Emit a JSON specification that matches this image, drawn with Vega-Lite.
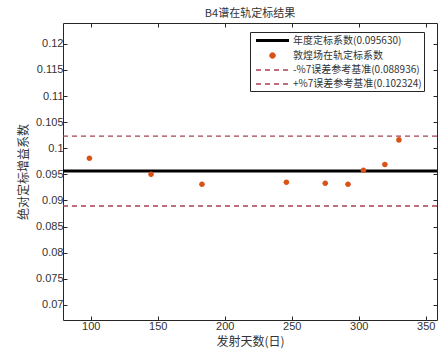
{
  "$schema": "https://vega.github.io/schema/vega-lite/v6.json",
  "width": 374,
  "height": 297,
  "autosize": {"type": "none"},
  "padding": {"left": 63, "top": 23, "right": 2, "bottom": 34},
  "background": "white",
  "title": {"text": "B4谱在轨定标结果", "font": "Noto Sans CJK SC", "fontSize": 11, "fontWeight": "normal", "color": "#333333", "offset": 4},
  "config": {
    "view": {"stroke": "#262626", "strokeWidth": 1},
    "axis": {"labelFont": "Liberation Sans", "labelFontSize": 11, "labelColor": "#333333", "titleFont": "Noto Sans CJK SC", "titleFontSize": 12, "titleFontWeight": "normal", "titleColor": "#333333", "grid": false, "domain": false, "tickColor": "#262626", "tickSize": -4}
  },
  "datasets": {
    "refs": [
      {"series": "年度定标系数(0.095630)", "value": 0.09563},
      {"series": "-%7误差参考基准(0.088936)", "value": 0.088936},
      {"series": "+%7误差参考基准(0.102324)", "value": 0.102324}
    ],
    "pts": [
      {"series": "敦煌场在轨定标系数", "day": 99, "coef": 0.0981},
      {"series": "敦煌场在轨定标系数", "day": 145, "coef": 0.0950},
      {"series": "敦煌场在轨定标系数", "day": 183, "coef": 0.0931},
      {"series": "敦煌场在轨定标系数", "day": 246, "coef": 0.0935},
      {"series": "敦煌场在轨定标系数", "day": 275, "coef": 0.0933},
      {"series": "敦煌场在轨定标系数", "day": 292, "coef": 0.0931},
      {"series": "敦煌场在轨定标系数", "day": 303.5, "coef": 0.0958},
      {"series": "敦煌场在轨定标系数", "day": 319.5, "coef": 0.0969},
      {"series": "敦煌场在轨定标系数", "day": 330, "coef": 0.1016}
    ]
  },
  "resolve": {"axis": {"x": "independent", "y": "independent"}},
  "layer": [
    {
      "data": {"name": "refs"},
      "mark": {"type": "rule"},
      "encoding": {
        "y": {"field": "value", "type": "quantitative", "scale": {"domain": [0.0671, 0.124], "nice": false, "zero": false},
              "axis": {"values": [0.07, 0.075, 0.08, 0.085, 0.09, 0.095, 0.1, 0.105, 0.11, 0.115, 0.12], "format": "~g", "title": "绝对定标增益系数", "labelPadding": 4, "titlePadding": 5}},
        "color": {"field": "series", "type": "nominal", "title": null,
                  "scale": {"domain": ["年度定标系数(0.095630)", "敦煌场在轨定标系数", "-%7误差参考基准(0.088936)", "+%7误差参考基准(0.102324)"], "range": ["#000000", "#D95319", "#a8404f", "#a8404f"]},
                  "legend": {"orient": "none", "legendX": 187, "legendY": 9, "strokeColor": "#262626", "fillColor": "white", "padding": 2, "labelFont": "Noto Sans CJK SC", "labelFontSize": 10, "labelColor": "#333333", "labelLimit": 300, "rowPadding": 3, "symbolSize": 100, "symbolOffset": 14, "labelOffset": 14}},
        "strokeDash": {"field": "series", "type": "nominal", "title": null,
                  "scale": {"domain": ["年度定标系数(0.095630)", "敦煌场在轨定标系数", "-%7误差参考基准(0.088936)", "+%7误差参考基准(0.102324)"], "range": [[1, 0], [1, 0], [5, 4], [5, 4]]}},
        "strokeWidth": {"field": "series", "type": "nominal", "title": null,
                  "scale": {"type": "ordinal", "domain": ["年度定标系数(0.095630)", "敦煌场在轨定标系数", "-%7误差参考基准(0.088936)", "+%7误差参考基准(0.102324)"], "range": [3, 1, 1.3, 1.3]}}
      }
    },
    {
      "data": {"name": "pts"},
      "mark": {"type": "point", "filled": true, "opacity": 1, "size": 100, "strokeWidth": 0},
      "encoding": {
        "x": {"field": "day", "type": "quantitative", "scale": {"domain": [79.3, 358.4], "nice": false, "zero": false},
              "axis": {"values": [100, 150, 200, 250, 300, 350], "title": "发射天数(日)", "labelPadding": 4, "titlePadding": 5}},
        "y": {"field": "coef", "type": "quantitative", "scale": {"domain": [0.0671, 0.124], "nice": false, "zero": false},
              "axis": {"orient": "right", "values": [0.07, 0.075, 0.08, 0.085, 0.09, 0.095, 0.1, 0.105, 0.11, 0.115, 0.12], "labels": false, "title": null}},
        "color": {"field": "series", "type": "nominal", "title": null},
        "shape": {"field": "series", "type": "nominal", "title": null,
                  "scale": {"domain": ["年度定标系数(0.095630)", "敦煌场在轨定标系数", "-%7误差参考基准(0.088936)", "+%7误差参考基准(0.102324)"], "range": ["M-3.3,0H3.3", "M-0.56,0A0.56,0.56 0 1,0 0.56,0A0.56,0.56 0 1,0 -0.56,0Z", "M-3.3,0H3.3", "M-3.3,0H3.3"]}}
      }
    },
    {
      "data": {"name": "pts"},
      "mark": {"type": "point", "opacity": 0},
      "encoding": {
        "x": {"field": "day", "type": "quantitative", "scale": {"domain": [79.3, 358.4], "nice": false, "zero": false},
              "axis": {"orient": "top", "values": [100, 150, 200, 250, 300, 350], "labels": false, "title": null}}
      }
    }
  ]
}
